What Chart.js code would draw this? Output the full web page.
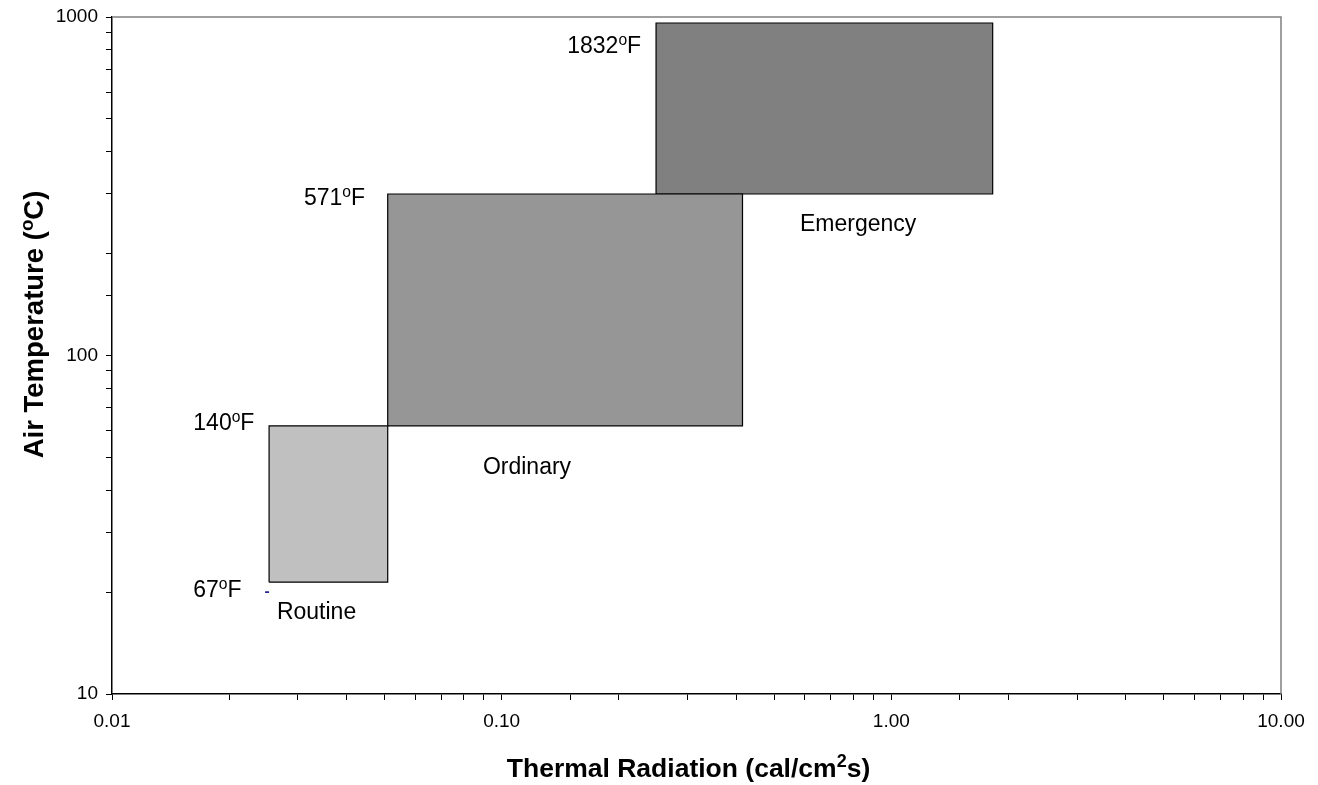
<!DOCTYPE html>
<html>
<head>
<meta charset="utf-8">
<script src="https://cdn.jsdelivr.net/npm/chart.js@4.4.1/dist/chart.umd.min.js"></script>
<style>
    html, body { margin: 0; padding: 0; background: #fff; }
    #wrap { width: 1318px; height: 785px; }
</style>
</head>
<body>
<div id="wrap"><canvas id="fireChart"></canvas></div>
<script>
// zones: radiation range (cal/cm2s) and air temperature range (C)
const zoneNames = ['Routine', 'Ordinary', 'Emergency'];
const zoneRadiation = [[0.0253, 0.051], [0.051, 0.415], [0.249, 1.82]];
const zoneTemperature = [[21.4, 62], [62, 300], [300, 960]];

// small marker near the routine zone
const markerPoint = [{ x: 0.025, y: 20 }];

// fahrenheit notes, anchored (right end, baseline) in data units
const fahrenheitText = ['1832', '571', '140', '67'];
const fahrenheitAt = [[0.228, 781], [0.0446, 278], [0.0232, 60.1], [0.0215, 19.3]];

// zone name notes, anchored (left end, baseline) in data units
const zoneNameAt = [[0.0265, 16.7], [0.0895, 44.6], [0.583, 234]];

const xTickValues = [0.01, 0.1, 1, 10];
const xTickLabels = ['0.01', '0.10', '1.00', '10.00'];
const yTickValues = [10, 100, 1000];
const yTickLabels = ['10', '100', '1000'];

const FONT = '"Liberation Sans", Arial, sans-serif';
const zoneFill = ['#c0c0c0', '#969696', '#808080'];

Chart.defaults.font.family = FONT;
Chart.defaults.color = '#000';

function tickLabel(values, labels) {
    return (v) => {
        const i = values.findIndex(t => Math.abs(t - v) / t < 1e-6);
        return i >= 0 ? labels[i] : '';
    };
}

// text with superscript parts: parts = [{t, sup}]
function drawRich(ctx, parts, x, y, size, bold, align) {
    const font = s => (bold ? 'bold ' : '') + s + 'px ' + FONT;
    let w = 0;
    parts.forEach(p => {
        ctx.font = font(p.sup ? size * 0.68 : size);
        w += ctx.measureText(p.t).width;
    });
    let cx = align === 'right' ? x - w : align === 'center' ? x - w / 2 : x;
    ctx.textAlign = 'left';
    ctx.textBaseline = 'alphabetic';
    parts.forEach(p => {
        ctx.font = font(p.sup ? size * 0.68 : size);
        ctx.fillText(p.t, cx, p.sup ? y - size * 0.36 : y);
        cx += ctx.measureText(p.t).width;
    });
}

const notesPlugin = {
    id: 'notes',
    afterDraw(chart) {
        const { ctx, chartArea: a, scales: { x, y } } = chart;
        ctx.save();

        // grey frame on top and right
        ctx.strokeStyle = '#808080';
        ctx.lineWidth = 1.5;
        ctx.beginPath();
        ctx.moveTo(a.left, a.top);
        ctx.lineTo(a.right, a.top);
        ctx.lineTo(a.right, a.bottom);
        ctx.stroke();

        ctx.fillStyle = '#000';
        fahrenheitText.forEach((t, i) => {
            const px = x.getPixelForValue(fahrenheitAt[i][0]);
            const py = y.getPixelForValue(fahrenheitAt[i][1]);
            drawRich(ctx, [{ t: t }, { t: 'o', sup: true }, { t: 'F' }], px, py, 23, false, 'right');
        });
        zoneNames.forEach((t, i) => {
            const px = x.getPixelForValue(zoneNameAt[i][0]);
            const py = y.getPixelForValue(zoneNameAt[i][1]);
            drawRich(ctx, [{ t: t }], px, py, 23, false, 'left');
        });

        // axis titles
        drawRich(ctx, [{ t: 'Thermal Radiation (cal/cm' }, { t: '2', sup: true }, { t: 's)' }],
            (a.left + a.right) / 2 - 8, 777, 26.5, true, 'center');
        ctx.translate(43, (a.top + a.bottom) / 2 - 31);
        ctx.rotate(-Math.PI / 2);
        drawRich(ctx, [{ t: 'Air Temperature (' }, { t: 'o', sup: true }, { t: 'C)' }], 0, 0, 27.5, true, 'center');
        ctx.restore();
    }
};

const datasets = zoneNames.map((name, i) => {
    const [x0, x1] = zoneRadiation[i];
    const [y0, y1] = zoneTemperature[i];
    return {
        label: name,
        data: [[x0, y0], [x0, y1], [x1, y1], [x1, y0], [x0, y0]].map(([x, y]) => ({ x, y })),
        showLine: true,
        fill: 'shape',
        backgroundColor: zoneFill[i],
        borderColor: '#000',
        borderWidth: 1.2,
        pointRadius: 0,
        tension: 0
    };
});

datasets.push({
    label: 'marker',
    data: markerPoint,
    showLine: false,
    pointStyle: 'line',
    pointRadius: 2,
    borderColor: '#000080',
    borderWidth: 1.5
});

new Chart(document.getElementById('fireChart'), {
    type: 'scatter',
    data: { datasets },
    options: {
        responsive: true,
        maintainAspectRatio: false,
        animation: false,
        devicePixelRatio: 1,
        layout: { padding: { top: 17, right: 37, left: 0, bottom: 0 } },
        plugins: { legend: { display: false }, tooltip: { enabled: false } },
        scales: {
            x: {
                type: 'logarithmic',
                min: 0.01,
                max: 10,
                afterFit: s => { s.height = 91; s.paddingLeft = 0; s.paddingRight = 0; },
                border: { color: '#000', width: 1.5 },
                grid: { drawOnChartArea: false, drawTicks: true, tickLength: 6, color: '#000' },
                ticks: {
                    autoSkip: false,
                    maxRotation: 0,
                    padding: 10,
                    font: { size: 19 },
                    callback: tickLabel(xTickValues, xTickLabels)
                }
            },
            y: {
                type: 'logarithmic',
                min: 10,
                max: 1000,
                afterFit: s => { s.width = 112; s.paddingTop = 0; s.paddingBottom = 0; },
                border: { color: '#000', width: 1.5 },
                grid: { drawOnChartArea: false, drawTicks: true, tickLength: 6, color: '#000' },
                ticks: {
                    autoSkip: false,
                    padding: 8,
                    font: { size: 19 },
                    callback: tickLabel(yTickValues, yTickLabels)
                }
            }
        }
    },
    plugins: [notesPlugin]
});
</script>
</body>
</html>
